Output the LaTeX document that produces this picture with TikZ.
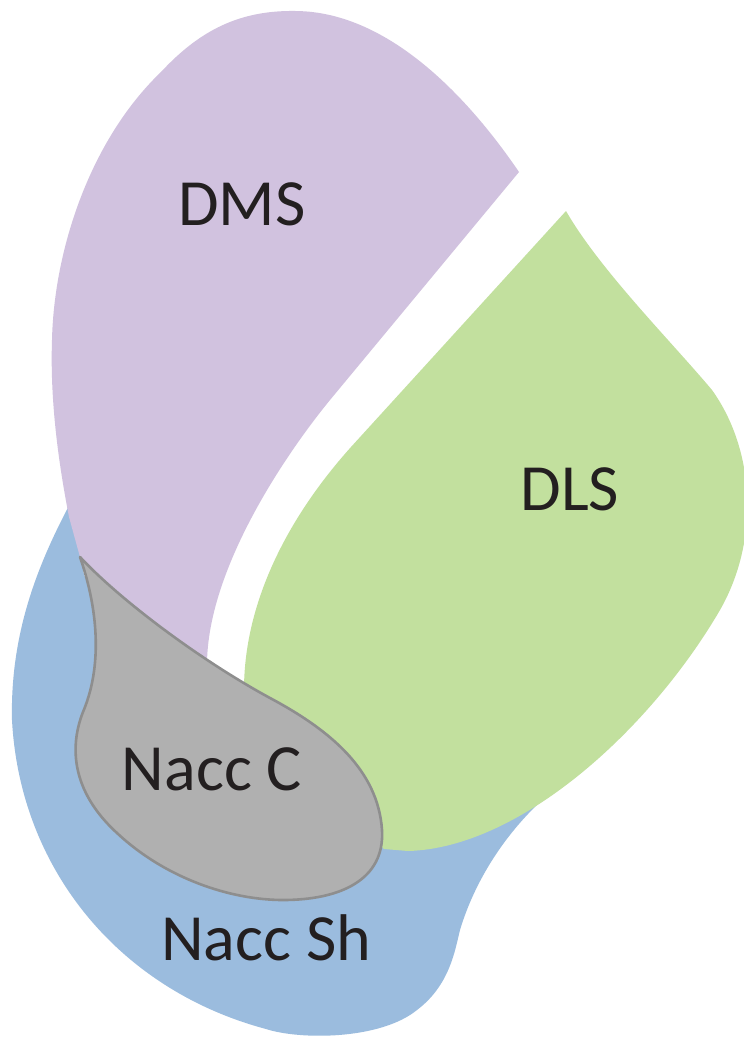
\documentclass[tikz,border=0pt]{standalone}
\usepackage{fontspec}
\setmainfont{Carlito}
\definecolor{dmscol}{RGB}{209,194,223}
\definecolor{dlscol}{RGB}{194,224,158}
\definecolor{shcol}{RGB}{155,188,222}
\definecolor{ccol}{RGB}{176,176,176}
\definecolor{cline}{RGB}{142,142,142}
\definecolor{txt}{RGB}{35,31,32}
\tikzset{
  label/.style={anchor=base, text=txt, inner sep=0pt, font=\fontsize{66}{70}\selectfont},
}
\begin{document}
\begin{tikzpicture}[x=1pt,y=-1pt]
\useasboundingbox (0,0) rectangle (744,1037);
\fill[white] (0,0) rectangle (744,1037);
\clip (0,0) rectangle (744,1037);
% Nacc Sh (blue)
\fill[shcol] (72,500) .. controls (40,560) and (10,630) .. (12,720)
  .. controls (20,870) and (120,990) .. (266,1029)
  .. controls (300,1040) and (380,1040) .. (417,1010)
  .. controls (450,985) and (455,950) .. (460,930)
  .. controls (475,880) and (505,835) .. (540,802)
  -- (300,760) -- (150,700) -- (84,575) -- cycle;
% DMS (purple)
\fill[dmscol] (519,172) -- (330,400) .. controls (285,455) and (207,570) .. (207,665)
  -- (140,630) -- (80,557) -- (69,517)
  .. controls (58,460) and (50,400) .. (52,340)
  .. controls (54,250) and (90,140) .. (161,72)
  .. controls (200,30) and (240,10) .. (296,11)
  .. controls (390,12) and (470,100) .. (519,172) -- cycle;
% DLS (green)
\fill[dlscol] (566,211) -- (351,447) .. controls (290,515) and (244,600) .. (244,690)
  -- (320,790) -- (384,849) -- (408,851)
  .. controls (520,848) and (650,730) .. (720,610)
  .. controls (760,540) and (755,450) .. (712,390)
  .. controls (670,340) and (600,270) .. (566,211) -- cycle;
% Nacc C (grey)
\filldraw[fill=ccol, draw=cline, line width=2.6pt, line join=round]
  (80,557) .. controls (95,600) and (105,660) .. (83,712)
  .. controls (70,745) and (70,790) .. (117,833)
  .. controls (165,878) and (230,900) .. (283,900)
  .. controls (340,900) and (385,880) .. (382,830)
  .. controls (378,770) and (330,730) .. (270,698)
  .. controls (200,660) and (120,600) .. (80,557) -- cycle;
% labels
\node[label] (dms) at (242,225) {DMS};
\node[label] (dls) at (570,510) {DLS};
\node[label] (naccc) at (212,790) {Nacc C};
\node[label] (naccsh) at (266,960) {Nacc Sh};
\end{tikzpicture}
\end{document}
